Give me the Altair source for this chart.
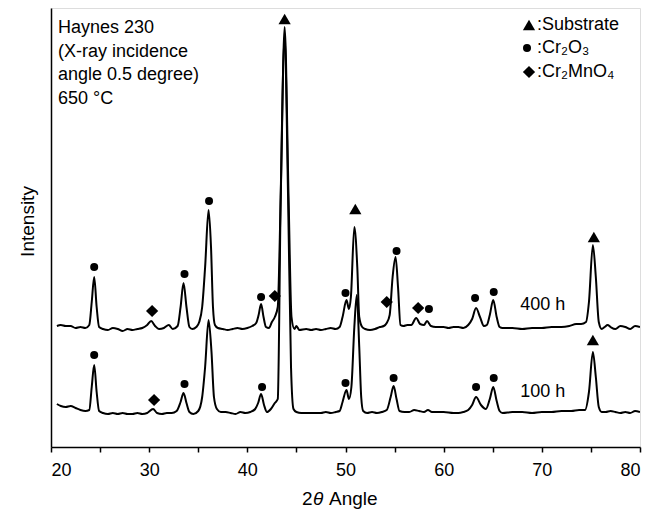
import altair as alt
import pandas as pd

# ---- 400 h pattern (2theta in degrees, intensity in arbitrary units) ----
x400 = [20.6, 21.0, 21.5, 22.0, 22.5, 23.0, 23.5, 23.9, 24.15, 24.4, 24.65, 24.9,
        25.3, 25.8, 26.3, 26.8, 27.3, 27.8, 28.3, 28.8, 29.3, 29.8, 30.2, 30.6,
        31.0, 31.5, 32.0, 32.4, 32.9, 33.2, 33.5, 33.8, 34.1, 34.4, 34.8, 35.1,
        35.4, 35.7, 36.05, 36.3, 36.5, 36.7, 37.0, 37.5, 38.0, 38.5, 39.0, 39.5,
        40.0, 40.5, 40.9, 41.15, 41.4, 41.65, 41.9, 42.2, 42.5, 42.8, 43.1, 43.4,
        43.8, 44.2, 44.5, 44.8, 45.0, 45.3, 46.0, 46.5, 47.0, 47.5, 48.0, 48.5,
        49.0, 49.4, 49.7, 50.1, 50.35, 50.55, 50.9, 51.2, 51.4, 51.7, 52.0, 52.5,
        53.0, 53.5, 53.9, 54.2, 54.5, 54.8, 55.1, 55.35, 55.6, 55.9, 56.3, 56.7,
        57.2, 57.6, 58.0, 58.3, 58.7, 59.2, 60.0, 60.5, 61.0, 61.5, 62.0, 62.5,
        62.9, 63.3, 63.7, 64.1, 64.4, 64.7, 65.05, 65.4, 65.7, 66.0, 67.0, 68.0,
        69.0, 70.0, 71.0, 72.0, 72.8, 73.5, 74.0, 74.5, 74.8, 75.2, 75.5, 75.8,
        76.1, 76.4, 76.7, 77.0, 77.5, 78.0, 78.5, 79.0, 79.5, 80.0]
y400 = [121, 122, 121, 121, 119, 120, 119, 122, 145, 170, 140, 120,
        118, 117, 119, 118, 116, 118, 117, 118, 119, 122, 126, 121,
        118, 119, 122, 118, 121, 140, 164, 140, 120, 118, 120, 125,
        140, 180, 237, 200, 140, 122, 119, 118, 117, 118, 119, 118,
        119, 121, 124, 132, 143, 130, 120, 119, 125, 130, 140, 250,
        420, 250, 130, 118, 121, 117, 118, 117, 118, 117, 118, 119,
        118, 120, 130, 147, 138, 150, 220, 180, 130, 120, 118, 117,
        118, 120, 121, 124, 132, 170, 190, 160, 122, 121, 122, 122,
        129, 123, 122, 126, 121, 120, 120, 119, 120, 120, 119, 122,
        128, 139, 130, 121, 122, 132, 147, 130, 120, 119, 119, 118,
        119, 119, 120, 120, 121, 123, 123, 125, 145, 202, 170, 125,
        118, 120, 122, 120, 118, 121, 120, 118, 121, 120]

# ---- 100 h pattern ----
x100 = [20.6, 21.0, 21.5, 22.0, 22.5, 23.0, 23.5, 23.9, 24.15, 24.4, 24.65, 24.9,
        25.3, 25.8, 26.3, 26.8, 27.3, 27.8, 28.3, 28.8, 29.3, 29.8, 30.4, 30.8,
        31.3, 31.8, 32.3, 32.8, 33.2, 33.5, 33.8, 34.1, 34.5, 35.0, 35.4, 35.7,
        36.05, 36.35, 36.6, 36.9, 37.3, 37.8, 38.3, 38.8, 39.3, 39.8, 40.3, 40.8,
        41.1, 41.4, 41.7, 42.0, 42.4, 42.8, 43.1, 43.4, 43.8, 44.15, 44.45, 44.7,
        45.0, 45.5, 46.0, 46.5, 47.0, 47.5, 48.0, 48.5, 49.0, 49.4, 49.7, 50.1,
        50.35, 50.6, 50.9, 51.15, 51.4, 51.6, 51.8, 52.2, 52.7, 53.2, 53.7, 54.2,
        54.6, 54.9, 55.2, 55.5, 56.0, 56.5, 57.0, 57.5, 58.0, 58.4, 58.8, 59.5,
        60.0, 61.0, 61.5, 62.0, 62.5, 62.9, 63.3, 63.8, 64.3, 64.7, 65.05, 65.4,
        65.7, 66.0, 67.0, 68.0, 69.0, 70.0, 71.0, 72.0, 73.0, 73.8, 74.4, 74.8,
        75.2, 75.5, 75.8, 76.1, 76.5, 77.0, 77.5, 78.0, 78.5, 79.0, 79.5, 80.0]
y100 = [43, 41, 40, 41, 39, 37, 36, 37, 60, 82, 55, 36,
        34, 33, 34, 33, 34, 33, 33, 34, 33, 34, 38, 34,
        33, 34, 34, 36, 45, 54, 44, 35, 33, 36, 50, 80,
        127, 95, 50, 38, 35, 35, 34, 33, 35, 34, 35, 38,
        44, 53, 42, 35, 38, 44, 48, 250, 410, 250, 80, 38,
        35, 34, 34, 34, 34, 34, 35, 34, 35, 36, 45, 57,
        48, 60, 120, 152, 100, 50, 36, 34, 35, 34, 35, 37,
        50, 61, 48, 36, 35, 35, 37, 36, 35, 37, 35, 35,
        35, 34, 34, 35, 37, 42, 50, 42, 38, 48, 60, 46,
        36, 34, 35, 35, 34, 35, 35, 36, 36, 37, 37, 55,
        95, 70, 40, 35, 35, 36, 35, 34, 35, 34, 36, 35]

# ---- phase markers ----
mk_kind = ["circ", "dia", "circ", "circ", "circ", "dia", "tri", "circ", "tri",
           "dia", "circ", "dia", "circ", "circ", "circ", "tri",
           "circ", "dia", "circ", "circ", "circ", "circ", "circ", "circ", "tri"]
mk_x = [24.4, 30.3, 33.6, 36.1, 41.4, 42.8, 43.8, 50.0, 51.0,
        54.2, 55.2, 57.4, 58.5, 63.2, 65.1, 75.3,
        24.4, 30.5, 33.6, 41.5, 50.0, 54.9, 63.3, 65.1, 75.2]
mk_y = [180, 136, 173, 246, 150, 151, 428, 154, 238,
        145, 196, 139, 138, 149, 155, 210,
        92, 47, 63, 60, 64, 69, 60, 69, 107]

series_labels = ["400 h", "100 h"]
label_x = [70.1, 70.1]
label_y = [142, 55]

info_lines = ["Haynes 230", "(X-ray incidence", "angle 0.5 degree)", "650 °C"]
legend_texts = [":Substrate", ":Cr₂O₃", ":Cr₂MnO₄"]

W, H = 589, 439
FONT = "Liberation Sans"

lines_df = pd.concat([
    pd.DataFrame({"x": x400, "y": y400, "s": "400 h"}),
    pd.DataFrame({"x": x100, "y": y100, "s": "100 h"}),
])
mk_df = pd.DataFrame({"x": mk_x, "y": mk_y, "kind": mk_kind})
lab_df = pd.DataFrame({"x": label_x, "y": label_y, "t": series_labels})
one = pd.DataFrame({"a": [0]})

xs = alt.Scale(domain=[20, 80], nice=False, zero=False)
ys = alt.Scale(domain=[0, H], nice=False, zero=False)

SHAPES = {"tri": ("triangle-up", 150), "circ": ("circle", 64), "dia": ("diamond", 150)}

x_axis = alt.Axis(values=list(range(20, 81, 5)), grid=False, tickSize=5,
                  tickColor="black", tickWidth=1.5, domainColor="black",
                  domainWidth=1.5, labelFont=FONT, labelFontSize=18,
                  labelColor="black", labelPadding=9,
                  labelExpr="datum.value % 10 == 0 ? datum.label : ''",
                  title=None)
y_axis = alt.Axis(labels=False, ticks=False, grid=False, domainColor="black",
                  domainWidth=1.5, title="Intensity", titleFont=FONT,
                  titleFontSize=19, titleFontWeight="normal", titleColor="black",
                  titleX=-18, titleY=213, titleBaseline="alphabetic",
                  titleAngle=270, titleAlign="center")

curves = alt.Chart(lines_df).mark_line(color="black", strokeWidth=2, clip=True,
                                       interpolate="monotone").encode(
    x=alt.X("x:Q", scale=xs, axis=x_axis),
    y=alt.Y("y:Q", scale=ys, axis=y_axis),
    detail="s:N",
)

layers = [curves]
for kind, (shape, size) in SHAPES.items():
    layers.append(
        alt.Chart(mk_df).transform_filter(alt.datum.kind == kind)
        .mark_point(filled=True, color="black", opacity=1, shape=shape, size=size)
        .encode(x=alt.X("x:Q", scale=xs), y=alt.Y("y:Q", scale=ys))
    )

layers.append(
    alt.Chart(lab_df).mark_text(font=FONT, fontSize=18, color="black",
                                align="center", baseline="middle").encode(
        x=alt.X("x:Q", scale=xs), y=alt.Y("y:Q", scale=ys), text="t:N")
)

layers.append(
    alt.Chart(one).mark_text(
        font=FONT, fontSize=18, color="black", align="left", baseline="alphabetic",
        lineHeight=23.7).encode(x=alt.value(7), y=alt.value(25),
                                text=alt.value(info_lines))
)

# hand-made key (top right)
leg_rows = [("tri", 478, 17, 486, legend_texts[0]),
            ("circ", 476, 40, 486, legend_texts[1]),
            ("dia", 478, 64, 486, legend_texts[2])]
for kind, sx, sy, tx, txt in leg_rows:
    shape, size = SHAPES[kind]
    layers.append(
        alt.Chart(one).mark_point(filled=True, color="black", opacity=1,
                                  shape=shape, size=size)
        .encode(x=alt.value(sx), y=alt.value(sy))
    )
    layers.append(
        alt.Chart(one).mark_text(font=FONT, fontSize=18, color="black",
                                 align="left", baseline="middle")
        .encode(x=alt.value(tx), y=alt.value(sy), text=alt.value(txt))
    )

# x-axis title "2θ Angle" with italic θ
for txt, xpos, style in [("2", 251, "normal"), ("θ", 262, "italic"), ("Angle", 278, "normal")]:
    layers.append(
        alt.Chart(one).mark_text(font=FONT, fontSize=19, fontStyle=style,
                                 color="black", align="left", baseline="alphabetic")
        .encode(x=alt.value(xpos), y=alt.value(497), text=alt.value(txt))
    )

chart = alt.layer(*layers).properties(
    width=W, height=H,
    autosize=alt.AutoSizeParams(type="none"),
    padding={"left": 43, "top": 0, "right": 12, "bottom": 64},
).configure_view(
    stroke="black", strokeWidth=1.5
).configure(background="white")

chart.save("out.html", embed_options={"renderer": "svg", "actions": False})
